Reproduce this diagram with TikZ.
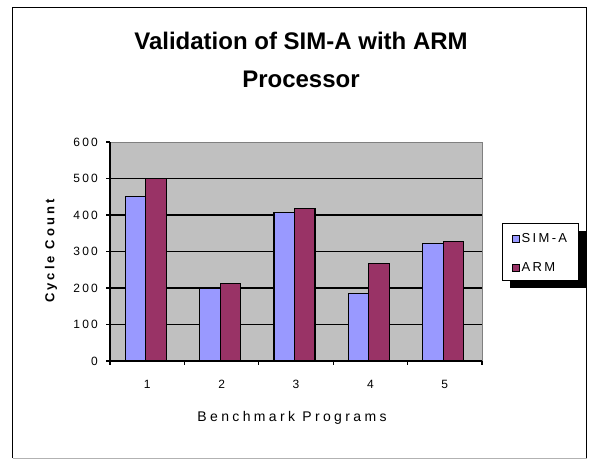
\documentclass[tikz,border=0pt]{standalone}
\usepackage{fontspec}
\setmainfont{Liberation Sans}
\newfontfamily\spacedfont[LetterSpace=18]{Liberation Sans}
\newfontfamily\widefont[LetterSpace=24]{Liberation Sans}
\usepackage{tikz}
\definecolor{simblue}{HTML}{9999FF}
\definecolor{armred}{HTML}{993366}
\definecolor{plotgray}{HTML}{C0C0C0}
\tikzstyle{bar} = [draw=black, line width=1.1pt]
\tikzstyle{gridline} = [black, line width=1.2pt]
\tikzstyle{ticklabel} = [inner sep=0pt, font=\spacedfont\fontsize{12}{14}\selectfont]
\tikzstyle{legendlabel} = [inner sep=0pt, font=\spacedfont\fontsize{13}{15}\selectfont]
\tikzstyle{axistitle} = [inner sep=0pt, font=\widefont\fontsize{14}{16}\selectfont]

\begin{document}
\begin{tikzpicture}[x=1pt, y=-1pt]
        \useasboundingbox (0,0) rectangle (589,459);
        % chart frame
        \draw[black, line width=1.2pt] (12.5,458) -- (12.5,7.5) -- (586.5,7.5) -- (586.5,458);
        \draw[gray!60, line width=1pt] (12.5,458.5) -- (586.5,458.5);

        % title
        \node[inner sep=0pt, align=center, font=\bfseries\fontsize{24}{38}\selectfont] (title) at (301,60)
            {Validation of SIM-A with ARM\\Processor};

        % plot area, 100 units = 36.5pt
        \fill[plotgray] (110,142) rectangle (482,361);
        \draw[gray, line width=0.8pt] (110,142) -- (482,142) -- (482,361);
        \foreach \v in {100,200,...,500}
            \draw[gridline] (110,361-0.365*\v) -- (482,361-0.365*\v);

        % bars: category, SIM-A, ARM
        \foreach \c/\s/\a in {1/450/500, 2/200/212, 3/408/418, 4/186/268, 5/323/328} {
            \pgfmathsetmacro{\m}{110+74.4*(\c-0.5)-1.5}
            \draw[bar, fill=simblue] (\m-20.5,361) rectangle (\m,361-0.365*\s);
            \draw[bar, fill=armred] (\m,361) rectangle (\m+20.5,361-0.365*\a);
            \node[ticklabel] (cat\c) at (\m+1.5,384.5) {\c};
        }

        % axes and ticks
        \draw[black, line width=1.2pt] (110,142) -- (110,361) -- (482,361);
        \foreach \v in {0,100,...,600} {
            \draw[black, line width=1.2pt] (106,361-0.365*\v) -- (110,361-0.365*\v);
            \node[ticklabel, anchor=east] (y\v) at (98,361-0.365*\v) {\v};
        }
        \foreach \i in {0,...,5}
            \draw[black, line width=1.2pt] (110+74.4*\i,361) -- (110+74.4*\i,365);

        \node[axistitle] (xtitle) at (292,418) {Benchmark Programs};
        \node[inner sep=0pt, rotate=90, font=\widefont\bfseries\fontsize{13}{15}\selectfont] (ytitle) at (51,251) {Cycle Count};

        % legend with shadow
        \fill[black] (510,231) rectangle (586,288);
        \draw[black, fill=white, line width=1pt] (502,223) rectangle (578,280);
        \draw[black, fill=simblue, line width=0.9pt] (512.5,235) rectangle (519.5,242);
        \draw[black, fill=armred, line width=0.9pt] (512.5,264) rectangle (519.5,271);
        \node[legendlabel, anchor=west] (simA) at (521.5,238.5) {SIM-A};
        \node[legendlabel, anchor=west] (arm) at (521.5,267.5) {ARM};
\end{tikzpicture}
\end{document}
